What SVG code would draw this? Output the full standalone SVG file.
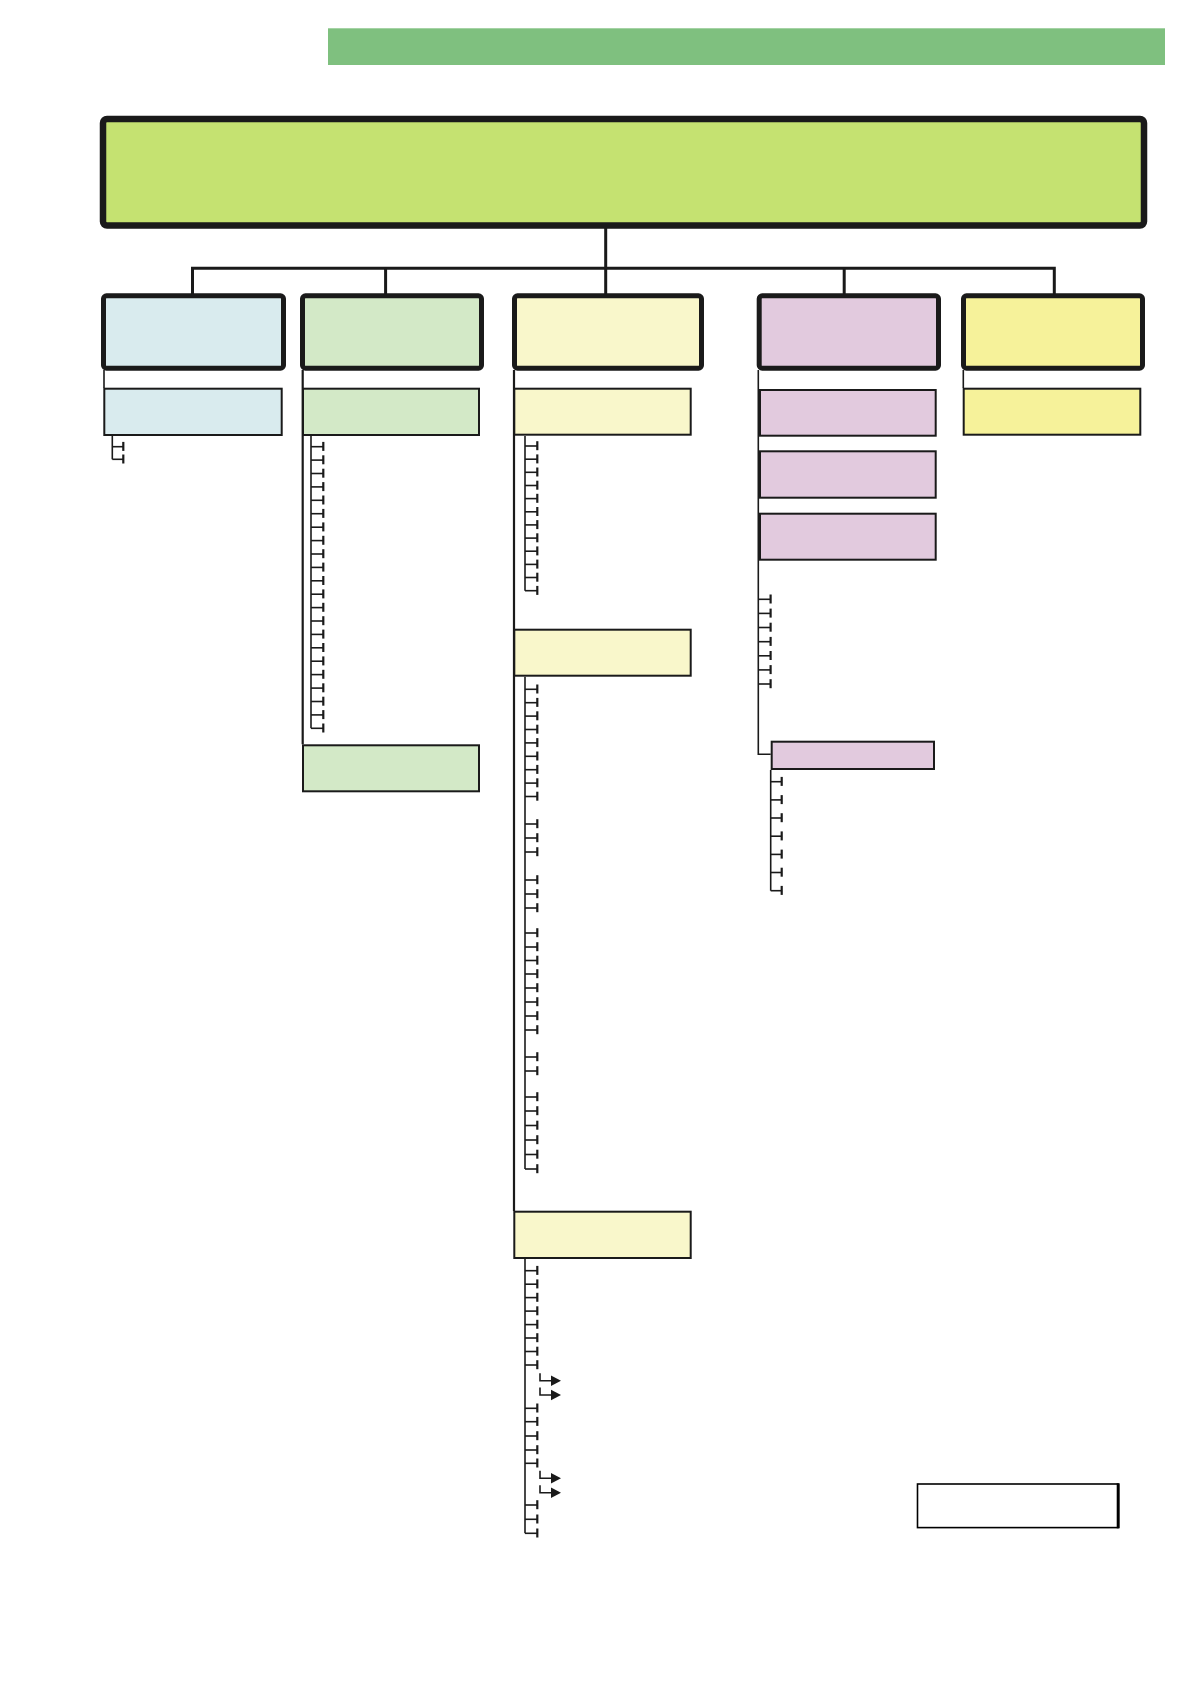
<svg xmlns="http://www.w3.org/2000/svg" width="1190" height="1684" viewBox="0 0 1190 1684">
<defs>
<style>
.bg{fill:#ffffff}
.root{fill:#c5e271;stroke:#1a1a1a;stroke-width:6.5}
.l2{stroke:#1a1a1a;stroke-width:5}
.sub{stroke:#1a1a1a;stroke-width:2}
.blue{fill:#d9ebee}.green{fill:#d3e9c7}.cream{fill:#f9f7cb}.pink{fill:#e2cade}.yellow{fill:#f6f29a}
.bus{fill:none;stroke:#1a1a1a;stroke-width:3}
.trunk{fill:none;stroke:#1a1a1a;stroke-width:2.2}
.thin{fill:none;stroke:#1a1a1a;stroke-width:1.6}
.bar{fill:none;stroke:#1a1a1a;stroke-width:2.2}
.head{fill:#1a1a1a}
</style>
<g id="tick"><path class="thin" d="M0 0H12.3"/><path class="bar" d="M12.3 -4.8V4.2"/></g>
<g id="tick2"><path class="thin" d="M0 0H11"/><path class="bar" d="M11 -4.8V4.2"/></g>
<g id="arr"><path class="thin" d="M0 -7.5V0H13"/><path class="head" d="M11 -5.2L21 0L11 5.2Z"/></g>
</defs>
<rect class="bg" x="0" y="0" width="1190" height="1684"/>

<g id="banner"><rect x="328" y="28.3" width="837" height="36.7" fill="#7fc07f"/></g>

<g id="root"><rect class="root" x="103" y="119" width="1041" height="106.5" rx="4"/></g>

<g id="connectors">
<path class="bus" d="M605.7 228V268.3M192.5 295V268.3H1054.3V295M385.6 268.3V295M605.7 268.3V295M844.2 268.3V295"/>
<path class="thin" d="M104 370V388"/>
<path class="trunk" d="M302.7 370V744.3"/>
<path class="trunk" d="M514 370V1211"/>
<path class="thin" d="M758.3 370V754.3H770.7"/>
<path class="thin" d="M963.3 370V388"/>
<!-- stems -->
<path class="thin" d="M112.3 436V459.3"/>
<path class="thin" d="M311 436V728.3"/>
<path class="thin" d="M525 436V590.7"/>
<path class="thin" d="M525 676.7V1169"/>
<path class="thin" d="M525 1259V1533.3"/>
<path class="thin" d="M770.7 770V890.7"/>
<!-- col1 ticks -->
<use href="#tick2" x="112.3" y="446.7"/><use href="#tick2" x="112.3" y="459.3"/>
<!-- col2 ticks -->
<use href="#tick" x="311" y="446.7"/><use href="#tick" x="311" y="460.1"/><use href="#tick" x="311" y="473.5"/><use href="#tick" x="311" y="486.9"/><use href="#tick" x="311" y="500.3"/><use href="#tick" x="311" y="513.7"/><use href="#tick" x="311" y="527.2"/><use href="#tick" x="311" y="540.6"/><use href="#tick" x="311" y="554"/><use href="#tick" x="311" y="567.4"/><use href="#tick" x="311" y="580.8"/><use href="#tick" x="311" y="594.2"/><use href="#tick" x="311" y="607.6"/><use href="#tick" x="311" y="621"/><use href="#tick" x="311" y="634.4"/><use href="#tick" x="311" y="647.8"/><use href="#tick" x="311" y="661.2"/><use href="#tick" x="311" y="674.6"/><use href="#tick" x="311" y="688.1"/><use href="#tick" x="311" y="701.5"/><use href="#tick" x="311" y="714.9"/><use href="#tick" x="311" y="728.3"/>
<!-- col3a ticks -->
<use href="#tick" x="525" y="446"/><use href="#tick" x="525" y="459.2"/><use href="#tick" x="525" y="472.3"/><use href="#tick" x="525" y="485.5"/><use href="#tick" x="525" y="498.6"/><use href="#tick" x="525" y="511.8"/><use href="#tick" x="525" y="524.9"/><use href="#tick" x="525" y="538.1"/><use href="#tick" x="525" y="551.2"/><use href="#tick" x="525" y="564.4"/><use href="#tick" x="525" y="577.5"/><use href="#tick" x="525" y="590.7"/>
<!-- col3b ticks -->
<use href="#tick" x="525" y="689.3"/><use href="#tick" x="525" y="702.7"/><use href="#tick" x="525" y="716.1"/><use href="#tick" x="525" y="729.5"/><use href="#tick" x="525" y="742.9"/><use href="#tick" x="525" y="756.3"/><use href="#tick" x="525" y="769.7"/><use href="#tick" x="525" y="783.1"/><use href="#tick" x="525" y="796.5"/>
<use href="#tick" x="525" y="824"/><use href="#tick" x="525" y="838"/><use href="#tick" x="525" y="852"/>
<use href="#tick" x="525" y="880"/><use href="#tick" x="525" y="894"/><use href="#tick" x="525" y="908"/>
<use href="#tick" x="525" y="933"/><use href="#tick" x="525" y="947"/><use href="#tick" x="525" y="960.5"/><use href="#tick" x="525" y="974"/><use href="#tick" x="525" y="988"/><use href="#tick" x="525" y="1002"/><use href="#tick" x="525" y="1016"/><use href="#tick" x="525" y="1030"/>
<use href="#tick" x="525" y="1057"/><use href="#tick" x="525" y="1071"/>
<use href="#tick" x="525" y="1097"/><use href="#tick" x="525" y="1111"/><use href="#tick" x="525" y="1125.5"/><use href="#tick" x="525" y="1140"/><use href="#tick" x="525" y="1154.5"/><use href="#tick" x="525" y="1169"/>
<!-- col3c ticks -->
<use href="#tick" x="525" y="1270.7"/><use href="#tick" x="525" y="1284.2"/><use href="#tick" x="525" y="1297.6"/><use href="#tick" x="525" y="1311.1"/><use href="#tick" x="525" y="1324.6"/><use href="#tick" x="525" y="1338"/><use href="#tick" x="525" y="1351.5"/><use href="#tick" x="525" y="1365"/>
<use href="#arr" x="540" y="1380.7"/><use href="#arr" x="540" y="1395"/>
<use href="#tick" x="525" y="1408.3"/><use href="#tick" x="525" y="1421.7"/><use href="#tick" x="525" y="1436"/><use href="#tick" x="525" y="1450"/><use href="#tick" x="525" y="1463.3"/>
<use href="#arr" x="540" y="1478.3"/><use href="#arr" x="540" y="1492.7"/>
<use href="#tick" x="525" y="1505"/><use href="#tick" x="525" y="1519.3"/><use href="#tick" x="525" y="1533.3"/>
<!-- col4 ticks -->
<use href="#tick" x="758.3" y="599.3"/><use href="#tick" x="758.3" y="613.4"/><use href="#tick" x="758.3" y="627.5"/><use href="#tick" x="758.3" y="641.7"/><use href="#tick" x="758.3" y="655.8"/><use href="#tick" x="758.3" y="669.9"/><use href="#tick" x="758.3" y="684"/>
<use href="#tick2" x="770.7" y="781.7"/><use href="#tick2" x="770.7" y="799.9"/><use href="#tick2" x="770.7" y="818"/><use href="#tick2" x="770.7" y="836.2"/><use href="#tick2" x="770.7" y="854.4"/><use href="#tick2" x="770.7" y="872.5"/><use href="#tick2" x="770.7" y="890.7"/>
</g>

<g id="n1"><rect class="l2 blue" x="103.5" y="295.8" width="180" height="72.4" rx="3"/></g>
<g id="n2"><rect class="l2 green" x="302.5" y="295.8" width="179" height="72.4" rx="3"/></g>
<g id="n3"><rect class="l2 cream" x="514.5" y="295.8" width="187" height="72.4" rx="3"/></g>
<g id="n4"><rect class="l2 pink" x="759.2" y="295.8" width="179.3" height="72.4" rx="3"/></g>
<g id="n5"><rect class="l2 yellow" x="963.5" y="295.8" width="179" height="72.4" rx="3"/></g>

<g id="n1a"><rect class="sub blue" x="104.3" y="388.7" width="177.4" height="46.3"/></g>
<g id="n2a"><rect class="sub green" x="303" y="388.7" width="176" height="46.3"/></g>
<g id="n2b"><rect class="sub green" x="303" y="745.3" width="176" height="46"/></g>
<g id="n3a"><rect class="sub cream" x="514.3" y="388.7" width="176.4" height="46"/></g>
<g id="n3b"><rect class="sub cream" x="514.3" y="629.7" width="176.4" height="46"/></g>
<g id="n3c"><rect class="sub cream" x="514.3" y="1211.7" width="176.4" height="46.3"/></g>
<g id="n4a"><rect class="sub pink" x="760" y="390" width="175.7" height="45.7"/></g>
<g id="n4b"><rect class="sub pink" x="760" y="451.3" width="175.7" height="46.4"/></g>
<g id="n4c"><rect class="sub pink" x="760" y="513.7" width="175.7" height="46"/></g>
<g id="n4d"><rect class="sub pink" x="771.7" y="741.7" width="162.3" height="27.3"/></g>
<g id="n5a"><rect class="sub yellow" x="963.7" y="388.7" width="176.6" height="46"/></g>

<g id="note"><rect x="917.5" y="1484" width="200.5" height="43.6" fill="#ffffff" stroke="#000000" stroke-width="1.6"/><path d="M1118.2 1483.3V1528.3" stroke="#000000" stroke-width="3"/></g>
</svg>
